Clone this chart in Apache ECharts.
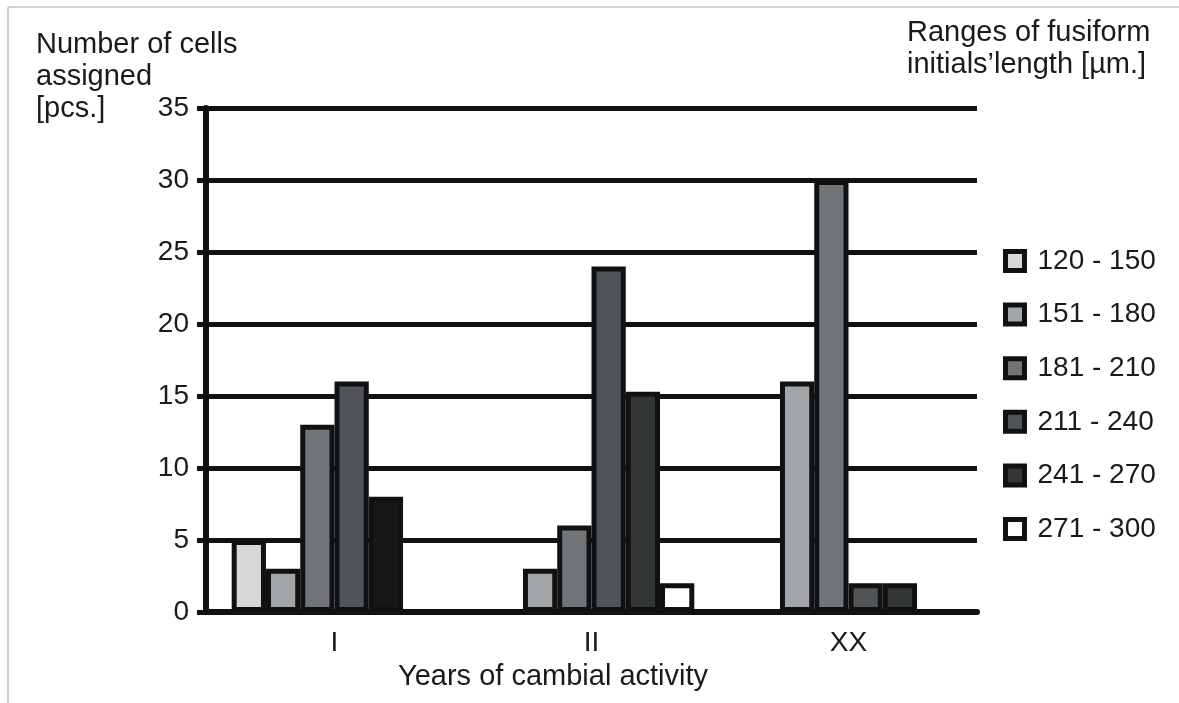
<!DOCTYPE html>
<html><head><meta charset="utf-8">
<script src="https://cdn.jsdelivr.net/npm/echarts@6/dist/echarts.min.js"></script>
<style>html,body{margin:0;padding:0;background:#fff}#c{width:1179px;height:703px}</style>
</head><body><div id="c"></div>
<script>
// ---- data ----
const categories = ['I', 'II', 'XX'];
const rangeNames = ['120 - 150', '151 - 180', '181 - 210', '211 - 240', '241 - 270', '271 - 300'];
const r120_150 = [5, 0, 0];
const r151_180 = [3, 3, 16];
const r181_210 = [13, 6, 30];
const r211_240 = [16, 24, 2];
const r241_270 = [8, 15.3, 2];
const r271_300 = [0, 2, 0];
const yMin = 0, yMax = 35, yInterval = 5;

// ---- styles ----
const seriesValues = [r120_150, r151_180, r181_210, r211_240, r241_270, r271_300];
const fills = ['#d6d7d7', '#a2a5a7', '#707476', '#505456', '#323634', '#ffffff'];
const FONT = '"Liberation Sans", Arial, sans-serif';
const TXT = '#1a1a1a';
const INK = '#111';

const series = seriesValues.map((vals, i) => ({
  name: rangeNames[i],
  type: 'bar',
  barGap: '0%',
  barCategoryGap: '20%',
  itemStyle: { color: fills[i], borderColor: INK, borderWidth: 5 },
  data: vals.map((v, j) => (i === 4 && j === 0) ? { value: v, itemStyle: { color: '#161816' } } : v)
}));

const chart = echarts.init(document.getElementById('c'));
chart.setOption({
  backgroundColor: '#fff',
  animation: false,
  textStyle: { fontFamily: FONT },
  grid: { left: 206, right: 202, top: 108, bottom: 91, containLabel: false },
  xAxis: {
    type: 'category',
    data: categories,
    axisLine: { lineStyle: { color: INK, width: 6 } },
    axisTick: { show: false },
    axisLabel: { fontSize: 28, color: TXT, margin: 17, fontFamily: FONT }
  },
  yAxis: {
    type: 'value',
    min: yMin, max: yMax, interval: yInterval,
    axisLine: { show: true, lineStyle: { color: INK, width: 6 } },
    axisTick: { show: true, length: 9, lineStyle: { color: INK, width: 5 } },
    splitLine: { show: true, lineStyle: { color: INK, width: 5 } },
    axisLabel: { fontSize: 28, color: TXT, margin: 17, fontFamily: FONT }
  },
  legend: {
    orient: 'vertical',
    left: 998, top: 242,
    itemWidth: 19, itemHeight: 19, itemGap: 25.6,
    icon: 'rect',
    itemStyle: { borderColor: INK, borderWidth: 5 },
    textStyle: { fontSize: 28, lineHeight: 28, color: TXT, fontFamily: FONT, padding: [0, 0, 0, 8] },
    data: rangeNames
  },
  graphic: [
    { type: 'line', shape: { x1: 8, y1: 7, x2: 1179, y2: 7 }, style: { stroke: '#c4c4c4', lineWidth: 1.5 } },
    { type: 'line', shape: { x1: 8, y1: 7, x2: 8, y2: 703 }, style: { stroke: '#c4c4c4', lineWidth: 1.5 } },
    { type: 'text', left: 36, top: 29, style: { text: 'Number of cells\nassigned\n[pcs.]', font: '29px ' + FONT, lineHeight: 32, fill: TXT } },
    { type: 'text', left: 907, top: 17, style: { text: 'Ranges of fusiform\ninitials\u2019length [\u00b5m.]', font: '29px ' + FONT, lineHeight: 32, fill: TXT } },
    { type: 'text', x: 553, y: 677, style: { text: 'Years of cambial activity', font: '29px ' + FONT, fill: TXT, align: 'center', verticalAlign: 'middle' } }
  ],
  series: series
});
</script></body></html>
